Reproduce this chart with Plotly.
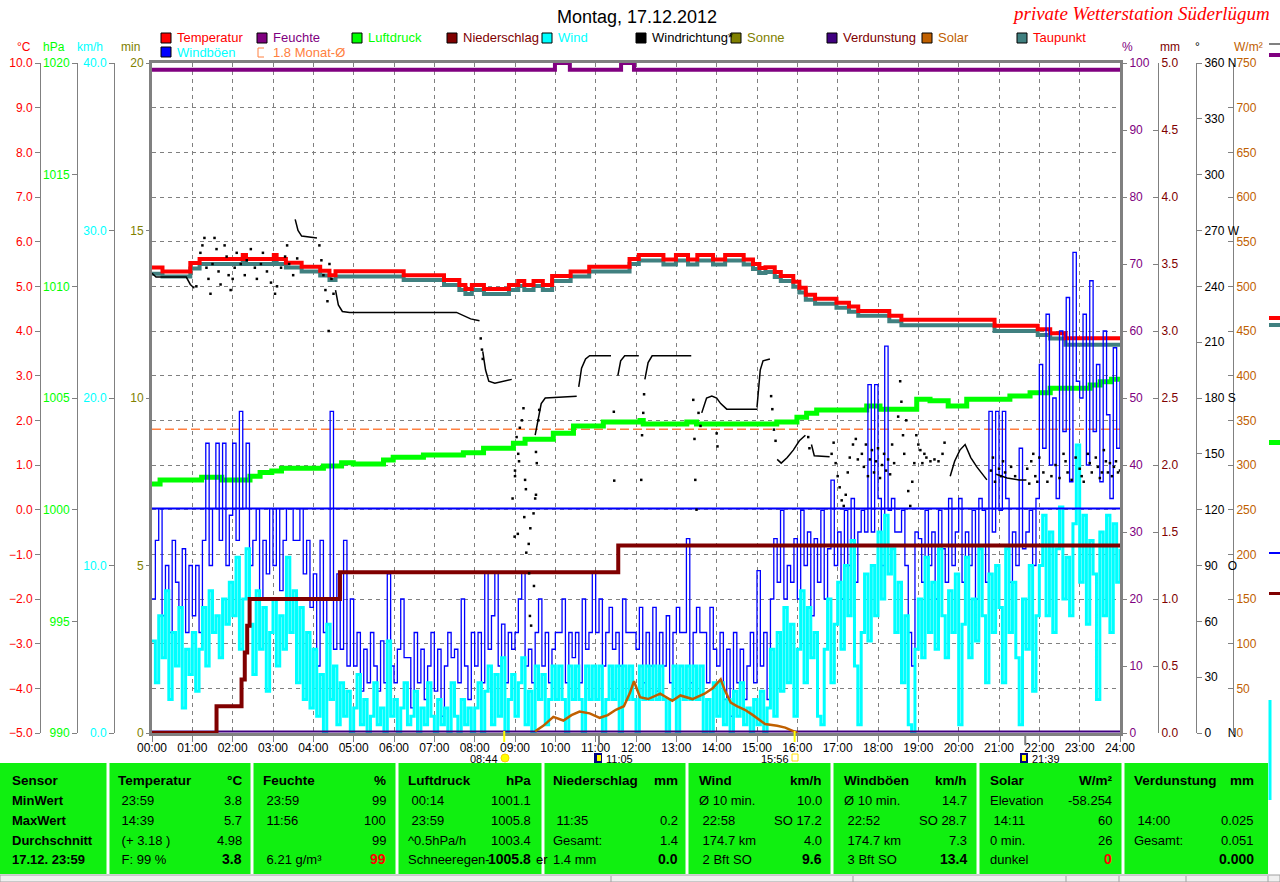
import plotly.graph_objects as go

W, H = 1280, 882
FONT = "Liberation Sans"


def px(x):
    return x / W


def py(y):
    return 1 - y / H


# ---------------- data ----------------
hour_labels = ["%02d:00" % h for h in range(25)]
hour_ticks = list(range(25))

# temperature (°C) and dew point, step series
temp_h = [0, 0.26, 0.95, 1.18, 2.25, 2.33, 3.02, 3.09, 3.32, 3.71, 4.17, 4.40, 4.55, 6.24, 7.24, 7.62,
          7.77, 7.93, 8.23, 8.85, 9.08, 9.23, 9.46, 9.69, 9.92, 10.38, 10.84, 11.84, 12.07, 12.68, 12.99,
          13.29, 13.52, 13.91, 14.21, 14.67, 14.90, 15.06, 15.21, 15.44, 15.59, 15.90, 16.05, 16.21, 16.44,
          16.97, 17.28, 17.51, 18.28, 18.58, 20.89, 21.96, 22.27, 22.65, 24]
temp_c = [5.42, 5.33, 5.52, 5.61, 5.70, 5.61, 5.70, 5.61, 5.53, 5.44, 5.35, 5.25, 5.34, 5.25, 5.14, 5.03,
          4.94, 5.03, 4.94, 5.03, 5.12, 5.03, 5.12, 5.03, 5.23, 5.33, 5.44, 5.61, 5.70, 5.60, 5.70,
          5.60, 5.70, 5.60, 5.70, 5.60, 5.50, 5.41, 5.43, 5.32, 5.23, 5.10, 4.97, 4.81, 4.72,
          4.63, 4.55, 4.45, 4.34, 4.25, 4.12, 4.04, 3.95, 3.84, 3.84]
dew_c = [5.28, 5.22, 5.40, 5.50, 5.58, 5.50, 5.58, 5.50, 5.42, 5.33, 5.24, 5.14, 5.22, 5.14, 5.03, 4.92,
         4.83, 4.92, 4.83, 4.92, 5.01, 4.92, 5.01, 4.92, 5.12, 5.22, 5.33, 5.50, 5.58, 5.49, 5.58,
         5.49, 5.58, 5.49, 5.58, 5.49, 5.39, 5.30, 5.32, 5.21, 5.12, 4.99, 4.86, 4.70, 4.61,
         4.52, 4.43, 4.34, 4.22, 4.13, 4.00, 3.91, 3.83, 3.69, 3.69]
month_avg_c = 1.8

# humidity (%)
hum_h = [0, 9.99, 10.36, 11.63, 11.95, 24]
hum_pct = [99, 100, 99, 100, 99, 99]

# pressure (hPa)
pres_h = [0, 0.20, 1.23, 1.73, 2.43, 2.68, 2.97, 3.21, 4.25, 4.70, 4.99, 5.74, 5.98, 6.73, 7.72, 8.22,
          8.96, 9.25, 9.95, 10.45, 11.19, 12.1, 12.18, 13.26, 13.5, 15.49, 15.99, 16.23, 16.48, 17.72,
          18.05, 18.96, 19.29, 19.74, 20.2, 21.27, 21.77, 22.27, 23.26, 23.51, 23.79, 24]
pres_hpa = [1001.15, 1001.33, 1001.45, 1001.33, 1001.5, 1001.66, 1001.73, 1001.85, 1001.96, 1002.1,
            1002.05, 1002.22, 1002.35, 1002.45, 1002.55, 1002.75, 1002.97, 1003.15, 1003.42, 1003.75,
            1003.93, 1003.99, 1003.84, 1003.93, 1003.84, 1003.93, 1004.14, 1004.32, 1004.46, 1004.64,
            1004.5, 1004.94, 1004.88, 1004.64, 1004.94, 1005.09, 1005.24, 1005.44, 1005.58, 1005.73,
            1005.84, 1005.84]

# precipitation (mm, cumulative)
rain_h = [0, 1.60, 2.22, 2.30, 2.36, 2.42, 4.66, 11.56, 24]
rain_mm = [0, 0.2, 0.4, 0.6, 0.8, 1.0, 1.2, 1.4, 1.4]

# evaporation (mm)
evap_h = [0, 24]
evap_mm = [0.012, 0.012]

# wind and gusts (km/h), 5-minute samples
wind_h = [i / 12 for i in range(289)]
wind_kmh = [
    5.5, 3.0, 7.0, 4.5, 8.5, 2.0, 6.0, 4.0, 7.5, 1.5, 5.0, 3.5,
    6.0, 2.5, 5.0, 7.5, 4.0, 8.5, 6.0, 7.0, 4.5, 8.0, 6.5, 9.0,
    7.0, 10.5, 5.0, 8.0, 11.0, 6.5, 3.5, 8.5, 5.0, 7.5, 2.5, 6.0,
    8.0, 4.0, 7.0, 5.0, 10.5, 6.0, 8.5, 3.0, 7.5, 2.0, 6.0, 1.5,
    5.0, 1.0, 3.5, 0.0, 6.5, 2.0, 4.0, 0.5, 3.0, 1.0, 2.5, 0.0,
    1.5, 3.5, 0.5, 2.0, 0.0, 1.0, 3.0, 0.5, 1.5, 0.0, 5.5, 1.0,
    2.0, 0.0, 1.5, 3.0, 0.5, 1.0, 2.5, 0.0, 1.5, 0.5, 3.0, 1.0,
    0.0, 2.0, 0.5, 1.5, 0.0, 3.0, 1.0, 0.0, 2.0, 0.5, 1.5, 0.0,
    1.5, 3.0, 0.0, 2.5, 4.0, 0.5, 3.5, 1.0, 4.5, 0.0, 2.0, 3.5,
    1.0, 3.0, 4.5, 0.5, 2.5, 0.0, 4.0, 2.0, 3.5, 0.5, 2.0, 4.0,
    2.0, 4.0, 2.0, 0.0, 4.0, 2.0, 4.0, 2.0, 0.0, 4.0, 2.0, 4.0,
    2.0, 4.0, 0.0, 2.0, 4.0, 2.0, 4.0, 0.0, 4.0, 2.0, 4.0, 2.0,
    0.0, 4.0, 2.0, 4.0, 2.0, 4.0, 2.0, 4.0, 2.0, 0.0, 2.0, 4.0,
    0.0, 4.0, 2.0, 4.0, 2.0, 4.0, 2.0, 4.0, 0.0, 2.0, 0.0, 3.0,
    1.0, 3.0, 0.5, 2.0, 0.0, 2.5, 1.0, 3.0, 0.5, 1.5, 0.0, 2.0,
    0.5, 2.5, 0.0, 1.5, 5.0, 1.0, 6.0, 2.5, 7.5, 3.0, 6.5, 1.0,
    5.0, 8.5, 3.0, 7.5, 4.5, 6.0, 1.0, 0.5, 5.0, 8.0, 3.0, 6.5,
    9.0, 5.0, 10.0, 7.0, 11.5, 4.0, 0.5, 6.0, 9.5, 5.5, 10.0, 7.0,
    12.0, 8.0, 13.0, 9.5, 11.0, 6.0, 9.0, 3.0, 7.0, 0.5, 0.0, 5.0,
    8.0, 4.5, 10.5, 6.0, 9.0, 5.0, 11.0, 7.0, 4.5, 8.5, 6.0, 9.5,
    0.5, 6.5, 10.5, 4.5, 8.0, 5.5, 11.0, 7.0, 3.0, 9.5, 6.0, 10.0,
    7.5, 3.0, 11.0, 6.0, 9.0, 4.5, 0.5, 8.0, 5.0, 10.0, 2.5, 7.0,
    10.0, 13.0, 7.0, 12.0, 6.0, 11.0, 13.5, 8.0, 10.5, 7.0, 12.5, 17.2,
    9.0, 13.0, 6.5, 11.5, 9.5, 2.0, 12.0, 7.0, 13.0, 6.0, 12.5, 9.0,
    11.0]
gust_kmh = [
    8, 11.5, 13.4, 7, 10, 6, 11.5, 9, 7.5, 11, 6, 10,
    7, 10, 6, 11.5, 17.3, 10, 13.4, 17.3, 11.5, 17.3, 10, 13,
    17.3, 11.5, 19.2, 13.4, 17.3, 10, 11.5, 13.4, 8, 11.5, 9.5, 13.4,
    10, 13.4, 8.5, 11.5, 13.4, 13.4, 11.5, 11.5, 13.4, 9.5, 11.5, 7.5,
    9.5, 4, 11.5, 6, 8, 19.2, 5, 9.5, 5, 11.5, 4, 8,
    4, 6, 2.5, 5, 3, 6, 4, 2.5, 5.5, 3, 9.5, 4,
    3, 5, 8, 4.5, 4.5, 1.5, 6, 3, 5, 2, 4, 6,
    2.5, 5, 1, 4, 6, 4.5, 5, 3, 8, 4, 2, 6,
    4, 6, 3, 9.6, 5, 7, 9.6, 4, 6.5, 3, 6, 5,
    6, 8, 9.6, 4, 5, 3, 6, 8, 4, 6, 3, 5,
    6, 6, 8, 3, 6, 4.5, 6, 3, 8, 5, 6, 9.6,
    6, 8, 4, 6, 7.5, 5, 6, 4, 8, 6, 6, 6,
    5, 7.5, 3, 6, 4, 7.5, 2.5, 6, 4, 7, 3, 6,
    7.5, 6, 6, 11.6, 3, 6, 7.5, 6, 6, 3, 7.5, 5,
    4, 6, 2, 5, 1, 6, 3, 5, 2, 4, 6, 3,
    9.7, 4, 6, 2, 8, 11.6, 9, 13.3, 8, 10, 9, 11.6,
    8, 13.3, 10, 12, 7, 11.6, 9, 13.3, 8, 11, 15.1, 10,
    12, 8, 13.3, 10, 14, 9, 12, 13.3, 12, 20.8, 12, 20.8,
    14, 10, 23.1, 13.3, 14, 12, 12, 13.3, 10, 6, 4, 12,
    11.6, 9, 13.3, 10, 12, 8, 13.3, 11, 9, 14, 10, 12,
    14, 9, 12, 10, 13.3, 8, 14, 13.3, 9, 19.2, 12, 19.2,
    13.3, 19.2, 14, 9, 12, 10, 17, 11, 12, 13.3, 10, 14,
    22, 17, 25, 16, 20, 14, 24, 18, 26, 15, 28.7, 21,
    20, 25, 16, 27, 18, 22, 15, 24, 19, 14, 23, 17,
    21]
gust_level_kmh = 13.4

# solar radiation (W/m²)
sol_h = [9.5, 9.7, 9.95, 10.2, 10.4, 10.6, 10.85, 11.1, 11.3, 11.5, 11.7, 11.85, 11.95, 12.1, 12.3, 12.6,
         12.9, 13.1, 13.4, 13.7, 13.9, 14.1, 14.2, 14.35, 14.5, 14.7, 14.9, 15.2, 15.5, 15.7, 15.9, 16.0]
sol_wm2 = [2, 8, 18, 14, 20, 24, 22, 17, 20, 26, 30, 45, 58, 40, 38, 44,
           36, 42, 38, 44, 50, 60, 48, 34, 30, 26, 20, 10, 8, 6, 2, 0]

# wind direction (degrees): continuous stretches (None = break) and single readings
wd_line_h = [0, 0.1, 0.85, 0.95, 1.05, None,
             3.55, 3.62, 3.71, 4.09, None,
             4.55, 4.62, 4.72, 4.9, 7.55, 7.75, 7.9, 8.12, None,
             8.2, 8.27, 8.35, 8.5, 8.92, None,
             9.5, 9.58, 9.65, 9.75, 10.53, None,
             10.58, 10.65, 10.75, 10.85, 11.38, None,
             11.55, 11.62, 11.72, 12.07, None,
             12.22, 12.3, 12.4, 13.37, None,
             13.63, 13.75, 13.88, 14.0, 14.1, 14.25, 15.0, None,
             15.0, 15.04, 15.08, 15.15, 15.32, None,
             15.5, 15.6, 15.75, 15.9, 16.05, 16.2, None,
             16.35, 16.42, 16.8, None,
             19.79, 19.9, 20.03, 20.16, 20.3, 20.45, 20.7, None,
             20.93, 21.2, 21.5, 21.68]
wd_line_deg = [247, 245, 245, 241, 239, None,
               276, 270, 267, 266, None,
               238, 230, 226.5, 226, 226, 224, 222.5, 221.5, None,
               205, 195, 189, 188, 190, None,
               160, 170, 177, 180, 181, None,
               186, 196, 201, 202.7, 202.7, None,
               192, 200, 202.7, 202.7, None,
               190, 199, 202.7, 202.7, None,
               172, 180, 181, 180, 177, 174, 174, None,
               175, 185, 195, 200, 201, None,
               147, 145, 148, 152, 157, 160, None,
               155, 149, 148.5, None,
               138, 146, 152, 155, 148, 143, 136, None,
               139, 137, 136, 136]
wd_dot_h = [1.1, 1.2, 1.25, 1.3, 1.35, 1.4, 1.45, 1.5, 1.55, 1.6, 1.65, 1.7, 1.8, 1.85, 1.9, 1.95, 2.0,
            2.05, 2.1, 2.2, 2.3, 2.35, 2.45, 2.55, 2.6, 2.7, 2.75, 2.85, 2.95, 3.05, 3.1, 3.2, 3.3, 3.35,
            3.4, 3.5, 3.6, 4.15, 4.2, 4.25, 4.3, 4.35, 4.4, 4.45, 4.5, 4.38,
            8.15, 8.18, 8.2, 8.94, 8.99, 9.0, 9.0, 9.04, 9.07, 9.08, 9.1, 9.12, 9.17, 9.21, 9.23, 9.25,
            9.27, 9.28, 9.34, 9.35, 9.37, 9.38, 9.4, 9.46, 9.47, 9.5, 9.52, 9.52, 9.54, 9.58, 9.6,
            11.45, 11.46, 12.13, 12.15, 12.18, 12.2, 13.42, 13.45, 13.47, 13.5, 13.55, 13.6, 14.0, 14.02,
            15.35, 15.38, 15.42, 15.46, 16.27, 16.3,
            16.85, 16.9, 16.95, 17.0, 17.05, 17.1, 17.15, 17.2, 17.25, 17.3, 17.38, 17.45, 17.5,
            17.6, 17.65, 17.7, 17.75, 17.8, 17.85, 17.9, 17.95, 18.0, 18.05, 18.1, 18.15, 18.2, 18.25,
            18.3, 18.35, 18.4, 18.5, 18.55, 18.58, 18.62, 18.65, 18.7, 18.75, 18.8, 18.85, 18.9, 18.95,
            19.0, 19.05, 19.1, 19.15, 19.2, 19.3, 19.4, 19.5, 19.6, 19.65,
            20.8, 20.85, 20.9, 21.0, 21.05, 21.1, 21.15, 21.3, 21.4,
            21.7, 21.75, 21.8, 21.85, 21.9, 21.95, 22.0, 22.1, 22.2, 22.3, 22.4, 22.5, 22.6, 22.65,
            22.7, 22.8, 22.9, 23.0, 23.05, 23.1, 23.2, 23.25, 23.3, 23.4, 23.45, 23.5, 23.55, 23.6,
            23.65, 23.7, 23.75, 23.8, 23.85, 23.9, 23.95, 24.0]
wd_dot_deg = [240, 258, 262, 266, 250, 244, 236, 252, 266, 260, 248, 241, 262, 256, 246, 238, 244,
              250, 258, 252, 246, 254, 260, 250, 244, 252, 258, 248, 242, 236, 240, 250, 256, 262,
              252, 246, 255, 262, 254, 246, 238, 232, 252, 244, 236, 216,
              212, 206, 201, 126, 105.5, 141, 138, 159, 107, 150, 146, 164, 168, 174.5, 116, 136,
              131, 96.9, 101.6, 85.8, 62.9, 110, 57.7, 118, 79, 126, 128, 151, 145, 168, 173.6,
              172.6, 135.6, 136, 160, 172, 182, 179, 158, 136, 120, 172, 165, 161, 154,
              181, 174, 163, 157, 159, 153,
              150, 156, 145, 138, 132, 125, 122, 128, 140, 148, 155, 158, 147,
              150, 143, 155, 138, 147, 152, 140, 146, 153, 137, 144, 150, 141, 147,
              139, 155, 145, 170, 189, 178, 160, 150, 168, 130, 122, 135, 145, 160,
              155, 152, 145, 150, 148, 146, 147, 146, 150, 156,
              141, 148, 135, 142, 138, 146, 140, 143, 138,
              142, 134, 146, 150, 138, 135, 148, 140, 135, 138, 144, 137, 150, 146,
              140, 136, 148, 142, 138, 135, 150, 145, 140, 148, 143, 137, 140, 152,
              146, 140, 145, 138, 143, 146, 140, 141]

# sun / moon events
event_h = [8.733, 11.083, 15.933, 21.65]
event_txt = ["08:44", "11:05", "15:56", "21:39"]

# legend
legend_items = [
    ("Temperatur", 161, 38, "#FF0000", "#FF0000"),
    ("Feuchte", 257, 38, "#800080", "#800080"),
    ("Luftdruck", 352, 38, "#00FF00", "#00FF00"),
    ("Niederschlag", 447, 38, "#800000", "#800000"),
    ("Wind", 542, 38, "#00FFFF", "#00FFFF"),
    ("Windrichtung*", 636, 38, "#000000", "#000000"),
    ("Sonne", 731, 38, "#808000", "#808000"),
    ("Verdunstung", 827, 38, "#400080", "#800000"),
    ("Solar", 922, 38, "#C06000", "#C06000"),
    ("Taupunkt", 1017, 38, "#408080", "#FF0000"),
    ("Windböen", 161, 52, "#0000FF", "#00FFFF"),
]

# summary table
tbl_left_x = [10, 116, 261, 406, 551, 697, 842, 988, 1132]
tbl_right_x = [None, 244, 388, 533, 680, 824, 969, 1114, 1256]
tbl_head = ["Sensor", "Temperatur", "Feuchte", "Luftdruck", "Niederschlag", "Wind", "Windböen", "Solar",
            "Verdunstung"]
tbl_unit = ["", "°C", "%", "hPa", "mm", "km/h", "km/h", "W/m²", "mm"]
tbl_left = [
    ["MinWert", "MaxWert", "Durchschnitt", "17.12. 23:59"],
    ["\u00a023:59", "\u00a014:39", "\u00a0(+ 3.18 )", "\u00a0F: 99 %"],
    ["\u00a023:59", "\u00a011:56", "", "\u00a06.21 g/m³"],
    ["\u00a000:14", "\u00a023:59", "^0.5hPa/h", "Schneeregen-"],
    ["", "\u00a011:35", "Gesamt:", "1.4 mm"],
    ["Ø 10 min.", "\u00a022:58", "\u00a0174.7 km", "\u00a02 Bft SO"],
    ["Ø 10 min.", "\u00a022:52", "\u00a0174.7 km", "\u00a03 Bft SO"],
    ["Elevation", "\u00a014:11", "0 min.", "dunkel"],
    ["", "\u00a014:00", "Gesamt:", ""],
]
tbl_right = [
    ["", "", "", ""],
    ["3.8", "5.7", "4.98", "3.8"],
    ["99", "100", "99", "99"],
    ["1001.1", "1005.8", "1003.4", "1005.8"],
    ["", "0.2", "1.4", "0.0"],
    ["10.0", "SO 17.2", "4.0", "9.6"],
    ["14.7", "SO 28.7", "7.3", "13.4"],
    ["-58.254", "60", "26", "0"],
    ["", "0.025", "0.051", "0.000"],
]
tbl_row_y = [800, 820, 840, 859]
tbl_sep_x = [108, 252, 397, 543, 687, 832, 978, 1123]

# ---------------- figure ----------------
fig = go.Figure()

fig.add_trace(go.Scatter(x=wind_h, y=gust_kmh, yaxis="y3", mode="lines", line=dict(color="#0000FF", width=1.3, shape="hv")))
fig.add_trace(go.Scatter(x=sol_h, y=sol_wm2, yaxis="y8", mode="lines", line=dict(color="#C06000", width=2.5)))
fig.add_trace(go.Scatter(x=wind_h, y=wind_kmh, yaxis="y3", mode="lines", line=dict(color="#00FFFF", width=3, shape="hv")))
fig.add_trace(go.Scatter(x=[0, 24], y=[gust_level_kmh, gust_level_kmh], yaxis="y3", mode="lines", line=dict(color="#0000FF", width=2)))
fig.add_trace(go.Scatter(x=evap_h, y=evap_mm, yaxis="y6", mode="lines", line=dict(color="#400080", width=2)))
fig.add_trace(go.Scatter(x=hum_h, y=hum_pct, yaxis="y5", mode="lines", line=dict(color="#800080", width=4, shape="hv")))
fig.add_trace(go.Scatter(x=pres_h, y=pres_hpa, yaxis="y2", mode="lines", line=dict(color="#00FF00", width=5, shape="hv")))
fig.add_trace(go.Scatter(x=temp_h, y=dew_c, yaxis="y", mode="lines", line=dict(color="#408080", width=4, shape="hv")))
fig.add_trace(go.Scatter(x=temp_h, y=temp_c, yaxis="y", mode="lines", line=dict(color="#FF0000", width=4, shape="hv")))
fig.add_trace(go.Scatter(x=rain_h, y=rain_mm, yaxis="y6", mode="lines", line=dict(color="#800000", width=4, shape="hv")))
fig.add_trace(go.Scatter(x=[0, 24], y=[month_avg_c, month_avg_c], yaxis="y", mode="lines", line=dict(color="#FF8040", width=1.5, dash="9px,4px")))
fig.add_trace(go.Scatter(x=wd_line_h, y=wd_line_deg, yaxis="y7", mode="lines", connectgaps=False, line=dict(color="#000000", width=1.5)))
fig.add_trace(go.Scatter(x=wd_dot_h, y=wd_dot_deg, yaxis="y7", mode="markers", marker=dict(color="#000000", size=2.5, symbol="square", line=dict(width=0))))
# empty traces so scale-only axes are drawn
fig.add_trace(go.Scatter(x=[None], y=[None], yaxis="y4", mode="lines"))
fig.add_trace(go.Scatter(x=[None], y=[None], yaxis="y9", mode="lines"))

grid = dict(showgrid=True, gridcolor="#808080", gridwidth=1, griddash="4px,4px")
ydom = [py(733), py(63)]


def scale_axis(rng, pos, side, color, ticks="outside", **kw):
    d = dict(range=rng, overlaying="y", anchor="free", position=pos, side=side, showgrid=False,
             zeroline=False, showline=True, linecolor="#808080", linewidth=1, ticks=ticks, ticklen=5,
             tickcolor="#808080", tickfont=dict(color=color, size=12, family=FONT), fixedrange=True,
             automargin=False)
    d.update(kw)
    return d


fig.update_layout(
    width=W, height=H, margin=dict(l=0, r=0, t=0, b=0, pad=0, autoexpand=False), showlegend=False,
    paper_bgcolor="white", plot_bgcolor="white",
    font=dict(family=FONT, size=12, color="black"),
    xaxis=dict(domain=[px(152), px(1120)], range=[0, 24], tickvals=hour_ticks, ticktext=hour_labels,
               ticks="outside", ticklen=2, tickcolor="#808080", showline=True, mirror=True,
               linecolor="#808080", linewidth=3, zeroline=False, tickfont=dict(size=12, color="black"),
               minor=dict(tick0=0, dtick=1, ticks="outside", ticklen=6, tickcolor="#808080", showgrid=False),
               automargin=False, **grid),
    yaxis=dict(domain=ydom, range=[-5, 10], dtick=1, showticklabels=False, ticks="", showline=True,
               mirror=True, linecolor="#808080", linewidth=3, zeroline=False, automargin=False, **grid),
    yaxis9=scale_axis([-5, 10], px(40), "left", "#FF0000", dtick=1, tickformat=".1f"),
    yaxis2=scale_axis([990, 1020], px(77), "left", "#00FF00", dtick=5),
    yaxis3=scale_axis([0, 40], px(114), "left", "#00FFFF", dtick=10, tickformat=".1f"),
    yaxis4=scale_axis([0, 20], px(151), "left", "#808000", dtick=5),
    yaxis5=scale_axis([0, 100], px(1121), "right", "#800080", dtick=10),
    yaxis6=scale_axis([0, 5], px(1158), "right", "#800000", ticks="inside", dtick=0.5, tickformat=".1f"),
    yaxis7=scale_axis([0, 360], px(1196), "right", "#000000",
                      tickvals=[0, 30, 60, 90, 120, 150, 180, 210, 240, 270, 300, 330, 360],
                      ticktext=["0\u00a0\u00a0\u00a0\u00a0\u00a0N", "30", "60", "90\u00a0\u00a0\u00a0O", "120", "150",
                                "180 S", "210", "240", "270 W", "300", "330", "360 N"]),
    yaxis8=scale_axis([0, 750], px(1233), "right", "#C06000", ticks="inside", dtick=50),
)

shapes = []
ann = []


def text(x, y, s, color="black", size=12, anchor="left", bold=False, family=FONT):
    if bold:
        s = "<b>%s</b>" % s
    ann.append(dict(x=px(x), y=py(y), xref="paper", yref="paper", text=s, showarrow=False,
                    xanchor=anchor, yanchor="middle", font=dict(color=color, size=size, family=family)))


# title and station name
text(637, 17, "Montag, 17.12.2012", size=18, anchor="center")
text(1272, 14, "<i>private Wetterstation Süderlügum</i>", color="#FF0000", size=19, anchor="right",
     family="Liberation Serif")

# axis units
for s, x, c in [("°C", 24, "#FF0000"), ("hPa", 54, "#00FF00"), ("km/h", 90, "#00FFFF"),
                ("min", 130, "#808000"), ("%", 1127, "#800080"), ("mm", 1170, "#800000"),
                ("°", 1197, "#000000"), ("W/m²", 1248, "#C06000")]:
    text(x, 47, s, color=c, anchor="center")

# legend
for name, x, y, col, tcol in legend_items:
    shapes.append(dict(type="rect", xref="paper", yref="paper", x0=px(x), x1=px(x + 10), y0=py(y + 5),
                       y1=py(y - 5), fillcolor=col, line=dict(color="black", width=1)))
    text(x + 14, y, name, color=tcol, size=13)
shapes.append(dict(type="path", xref="paper", yref="paper",
                   path="M %f %f L %f %f L %f %f L %f %f" % (px(264), py(48), px(258), py(48), px(258), py(57),
                                                          px(264), py(57)),
                   line=dict(color="#FF8040", width=1)))
text(271, 52, "1.8 Monat-Ø", color="#FF8040", size=13)

# sun / moon events under the time axis
for h, s, i in zip(event_h, event_txt, range(4)):
    if i in (0, 2):
        shapes.append(dict(type="line", xref="x", yref="paper", x0=h, x1=h, y0=py(731), y1=py(742),
                           line=dict(color="#FFFF00", width=2)))
    else:
        shapes.append(dict(type="line", xref="x", yref="paper", x0=h, x1=h, y0=py(734), y1=py(745),
                           line=dict(color="#808080", width=2)))
    ann.append(dict(x=h, y=py(759), xref="x", yref="paper", text=s, showarrow=False,
                    xanchor="right" if i in (0, 2) else "left", yanchor="middle",
                    xshift=-4 if i in (0, 2) else 5, font=dict(size=11, color="black", family=FONT)))
# icons
shapes.append(dict(type="circle", xref="paper", yref="paper", x0=px(501), x1=px(509), y0=py(762), y1=py(754),
                   fillcolor="#FFFF00", line=dict(color="#FFD000", width=1)))
shapes.append(dict(type="rect", xref="paper", yref="paper", x0=px(594), x1=px(602), y0=py(763), y1=py(753),
                   fillcolor="#000080", line=dict(width=0)))
shapes.append(dict(type="rect", xref="paper", yref="paper", x0=px(597), x1=px(601), y0=py(761), y1=py(755),
                   fillcolor="#FFFF00", line=dict(width=0)))
shapes.append(dict(type="rect", xref="paper", yref="paper", x0=px(792), x1=px(798), y0=py(761), y1=py(754),
                   fillcolor="white", line=dict(color="#FFE000", width=1)))
shapes.append(dict(type="rect", xref="paper", yref="paper", x0=px(1020), x1=px(1028), y0=py(763), y1=py(753),
                   fillcolor="#000080", line=dict(width=0)))
shapes.append(dict(type="rect", xref="paper", yref="paper", x0=px(1022), x1=px(1026), y0=py(761), y1=py(755),
                   fillcolor="#FFFF00", line=dict(width=0)))

# summary table
shapes.append(dict(type="rect", xref="paper", yref="paper", x0=0, x1=px(1268), y0=py(874), y1=py(763),
                   fillcolor="#10F010", line=dict(width=0), layer="below"))
for x in tbl_sep_x:
    shapes.append(dict(type="line", xref="paper", yref="paper", x0=px(x), x1=px(x), y0=py(874), y1=py(763),
                       line=dict(color="white", width=3)))
shapes.append(dict(type="rect", xref="paper", yref="paper", x0=0, x1=1, y0=0, y1=py(875),
                   fillcolor="#F0F0F0", line=dict(color="#A0A0A0", width=1)))
for x in [611, 853, 1066, 1119, 1186, 1268]:
    shapes.append(dict(type="line", xref="paper", yref="paper", x0=px(x), x1=px(x), y0=0, y1=py(876),
                       line=dict(color="#A0A0A0", width=1)))

for c in range(9):
    text(tbl_left_x[c], 780, tbl_head[c], size=13.5, bold=True)
    if tbl_right_x[c] is not None:
        text(tbl_right_x[c], 780, tbl_unit[c], size=13.5, bold=True, anchor="right")
    for r in range(4):
        text(tbl_left_x[c], tbl_row_y[r], tbl_left[c][r], size=13, bold=(c == 0))
        if tbl_right_x[c] is not None and tbl_right[c][r]:
            col = "#FF0000" if (r == 3 and c in (2, 7)) else "black"
            text(tbl_right_x[c], tbl_row_y[r], tbl_right[c][r], size=13 if r < 3 else 14, bold=(r == 3),
                 anchor="right", color=col)
text(534, 859, "er", size=13)

# cut-off neighbour panel at the far right
for y0, y1, col in [(53, 57, "#800080"), (316, 320, "#FF0000"), (323, 327, "#408080"),
                    (440, 445, "#00FF00"), (592, 595, "#800000")]:
    shapes.append(dict(type="rect", xref="paper", yref="paper", x0=px(1269), x1=1, y0=py(y1), y1=py(y0),
                       fillcolor=col, line=dict(width=0)))
shapes.append(dict(type="line", xref="paper", yref="paper", x0=px(1269), x1=1, y0=py(44), y1=py(44),
                   line=dict(color="#808080", width=2)))
shapes.append(dict(type="line", xref="paper", yref="paper", x0=px(1270), x1=px(1270), y0=py(800), y1=py(700),
                   line=dict(color="#00FFFF", width=3)))
shapes.append(dict(type="line", xref="paper", yref="paper", x0=px(1269), x1=1, y0=py(553), y1=py(553),
                   line=dict(color="#0000FF", width=2)))

fig.update_layout(shapes=shapes, annotations=ann)

fig.write_html("out.html", include_plotlyjs=True, config={"displayModeBar": False, "staticPlot": True},
               post_script="document.body.style.margin='0';document.body.style.overflow='hidden';")
